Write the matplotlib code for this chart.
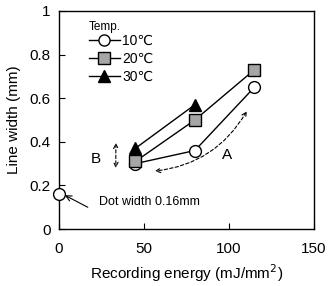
import matplotlib.pyplot as plt
from matplotlib.lines import Line2D

energy_10 = [45, 80, 115]
width_10 = [0.30, 0.36, 0.65]
energy_20 = [45, 80, 115]
width_20 = [0.31, 0.50, 0.73]
energy_30 = [45, 80]
width_30 = [0.37, 0.57]
dot_energy = [0]
dot_width = [0.16]

plt.rcParams['font.family'] = ['Liberation Sans', 'DejaVu Sans']

fig = plt.figure(figsize=(3.29, 2.86), dpi=100)
ax = fig.add_axes([0.179, 0.199, 0.775, 0.763])

ax.plot(energy_10, width_10, color='black', lw=1, marker='o', ms=8.5,
        mfc='white', mec='black', mew=1, zorder=3)
ax.plot(energy_20, width_20, color='black', lw=1, marker='s', ms=8,
        mfc='#a6a6a6', mec='black', mew=1, zorder=3)
ax.plot(energy_30, width_30, color='black', lw=1, marker='^', ms=8,
        mfc='black', mec='black', zorder=4)
ax.plot(dot_energy, dot_width, ls='none', marker='o', ms=8.5,
        mfc='white', mec='black', mew=1, zorder=5, clip_on=False)

ax.set_xlim(0, 150)
ax.set_ylim(0, 1)
ax.set_xticks([0, 50, 100, 150])
ax.set_yticks([0, 0.2, 0.4, 0.6, 0.8, 1.0])
ax.set_yticklabels(['0', '0.2', '0.4', '0.6', '0.8', '1'])
ax.tick_params(direction='in', labelsize=11, length=4, pad=6)
ax.tick_params(axis='x', pad=9)
for s in ax.spines.values():
    s.set_linewidth(1)

ax.set_xlabel('Recording energy (mJ/mm$^2$)', fontsize=11, labelpad=4.5)
ax.set_ylabel('Line width (mm)', fontsize=11, labelpad=6)

# annotations
dash = (0, (3, 2))
ax.text(22, 0.32, 'B', fontsize=11, ha='center', va='center')
ax.annotate('', xy=(33.5, 0.28), xytext=(33.5, 0.395),
            arrowprops=dict(arrowstyle='<->', ls=dash, lw=0.8, color='black',
                            shrinkA=0, shrinkB=0, mutation_scale=8))
ax.text(99, 0.34, 'A', fontsize=11, ha='center', va='center')
ax.annotate('', xy=(56.5, 0.266), xytext=(110.5, 0.54),
            arrowprops=dict(arrowstyle='<->', ls=dash, lw=0.8, color='black',
                            shrinkA=0, shrinkB=0, mutation_scale=8,
                            connectionstyle='arc3,rad=-0.25'))
ax.text(23.5, 0.124, 'Dot width 0.16mm', fontsize=9, ha='left', va='center')
ax.annotate('', xy=(3.5, 0.155), xytext=(17, 0.10),
            arrowprops=dict(arrowstyle='->', lw=0.8, color='black',
                            shrinkA=0, shrinkB=0, mutation_scale=10))

handles = [
    Line2D([], [], color='black', lw=1, marker='o', ms=8, mfc='white', mec='black'),
    Line2D([], [], color='black', lw=1, marker='s', ms=8, mfc='#a6a6a6', mec='black'),
    Line2D([], [], color='black', lw=1, marker='^', ms=8, mfc='black', mec='black'),
]
leg = ax.legend(handles, ['10\u2103', '20\u2103', '30\u2103'], title='Temp.',
                loc='upper left', bbox_to_anchor=(0.08, 1.0), frameon=False,
                fontsize=10, title_fontsize=8.5, handlelength=2.2,
                handletextpad=0.2, labelspacing=0.3, borderpad=0.2)
leg._legend_box.align = 'left'
leg._legend_box.sep = 1

fig.savefig('out.png', dpi=100)
